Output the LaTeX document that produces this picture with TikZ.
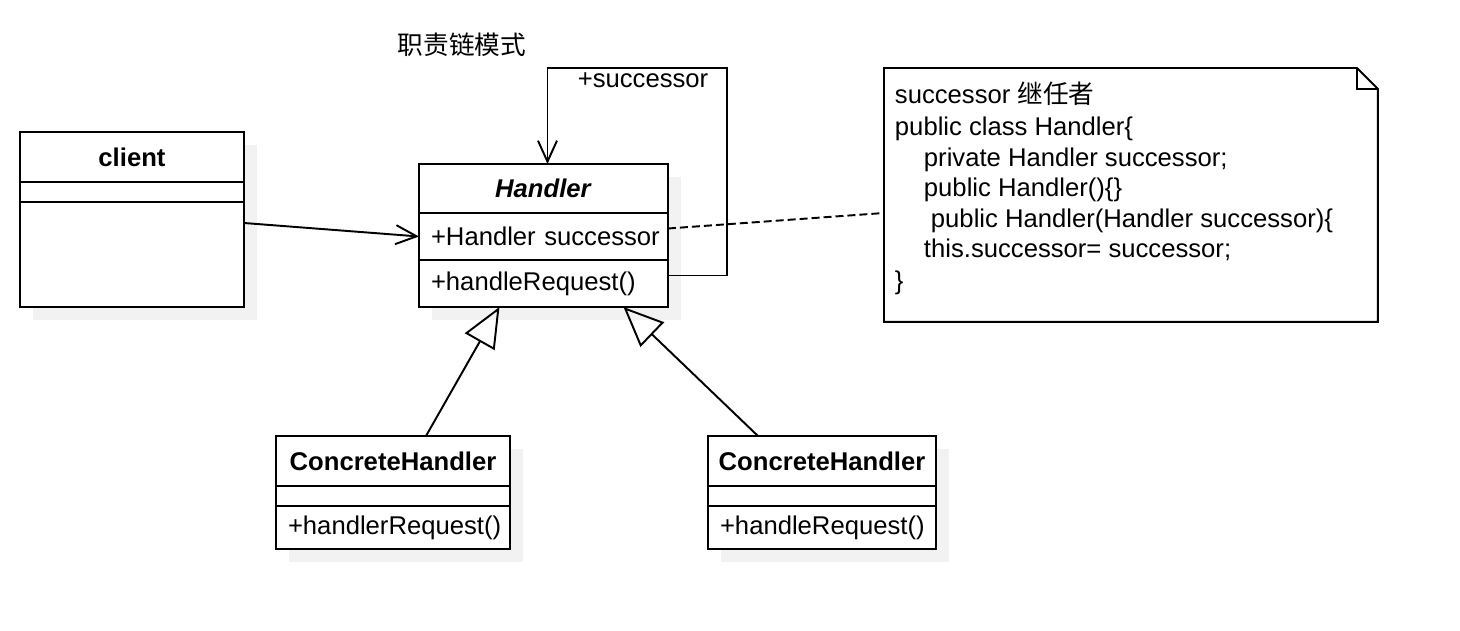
\documentclass[tikz,border=0pt]{standalone}
\usepackage{fontspec}
\setmainfont{Liberation Sans}
\newfontfamily\cjk{Noto Sans CJK SC}
\usetikzlibrary{positioning,arrows.meta,calc,shadows}

\tikzset{
  part/.style={draw, fill=white, outer sep=0pt, inner sep=0pt,
    drop shadow={shadow xshift=0.26cm, shadow yshift=-0.26cm, fill=black, opacity=0.05}},
  field/.style={part, align=left, text width=#1, inner xsep=0.24cm},
  assoc/.style={-{Straight Barb[length=0.42cm, width=0.38cm]}},
  inherit/.style={-{Triangle[open, length=0.8cm, width=0.68cm]}},
  noteline/.style={dash pattern=on 0.16cm off 0.08cm}
}

\begin{document}
\begin{tikzpicture}[x=0.02cm, y=-0.02cm, line width=1.1pt,
    font=\fontsize{14.6}{17.5}\selectfont]
  \useasboundingbox (0,0) rectangle (1460,630);

  \node (title) at (462,45) {\cjk 职责链模式};

  % client
  \node[part, minimum width=4.48cm, minimum height=1cm, anchor=north west] (client-name) at (20,132) {\textbf{client}};
  \node[part, minimum width=4.48cm, minimum height=0.4cm, below=0pt of client-name] (client-attr) {};
  \node[part, minimum width=4.48cm, minimum height=2.1cm, below=0pt of client-attr] (client-ops) {};

  % Handler
  \node[part, minimum width=4.98cm, minimum height=0.98cm, anchor=north west] (handler-name) at (419,164) {\textbf{\textit{Handler}}};
  \node[field=4.5cm, minimum height=0.94cm, below=0pt of handler-name] (handler-attr) {\mbox{+Handler successor}};
  \node[field=4.5cm, minimum height=0.94cm, below=0pt of handler-attr] (handler-ops) {+handleRequest()};

  % ConcreteHandler (left)
  \node[part, minimum width=4.68cm, minimum height=1cm, anchor=north west] (ch1-name) at (276,436) {\textbf{ConcreteHandler}};
  \node[part, minimum width=4.68cm, minimum height=0.4cm, below=0pt of ch1-name] (ch1-attr) {};
  \node[field=4.2cm, minimum height=0.86cm, below=0pt of ch1-attr] (ch1-ops) {+handlerRequest()};

  % ConcreteHandler (right)
  \node[part, minimum width=4.56cm, minimum height=1cm, anchor=north west] (ch2-name) at (708,436) {\textbf{ConcreteHandler}};
  \node[part, minimum width=4.56cm, minimum height=0.4cm, below=0pt of ch2-name] (ch2-attr) {};
  \node[field=4.08cm, minimum height=0.86cm, below=0pt of ch2-attr] (ch2-ops) {+handleRequest()};

  % note
  \node[minimum width=9.88cm, minimum height=5.08cm, inner sep=0pt, outer sep=0pt, anchor=north west] (note) at (884,68) {};
  \draw[fill=white] (note.north west) -- ($(note.north east)+(-21,0)$) -- ($(note.north east)+(0,21)$)
    -- (note.south east) -- (note.south west) -- cycle;
  \draw ($(note.north east)+(-21,0)$) |- ($(note.north east)+(0,21)$);
  \node[anchor=north west, align=left, inner sep=0pt, font=\fontsize{14.6}{17.3}\selectfont] (note-text) at (894,81)
    {successor {\cjk 继任者}\\[0.04cm]
     public class Handler\{\\
     \hspace*{0.58cm}private Handler successor;\\
     \hspace*{0.58cm}public Handler()\{\}\\
     \hspace*{0.72cm}public Handler(Handler successor)\{\\
     \hspace*{0.58cm}this.successor= successor;\\[0.04cm]
     \}};

  % connectors
  \draw[assoc] ($(client-ops.north east)+(0,21)$) -- (handler-attr.west);

  \coordinate (loop-corner) at (727,68);
  \draw[assoc] ($(handler-ops.east)+(0,-8)$) -| (loop-corner) -| ($(handler-name.north)+(4,0)$);
  \node (succ-label) at (643,80) {+successor};

  \draw[noteline] ($(handler-attr.east)+(0,-8)$) -- ($(note.west)+(0,18)$);

  \draw[inherit] ($(ch1-name.north)+(33,0)$) -- ($(handler-ops.south)+(-44,0)$);
  \draw[inherit] ($(ch2-name.north)+(-64,0)$) -- ($(handler-ops.south)+(80,0)$);
\end{tikzpicture}
\end{document}
